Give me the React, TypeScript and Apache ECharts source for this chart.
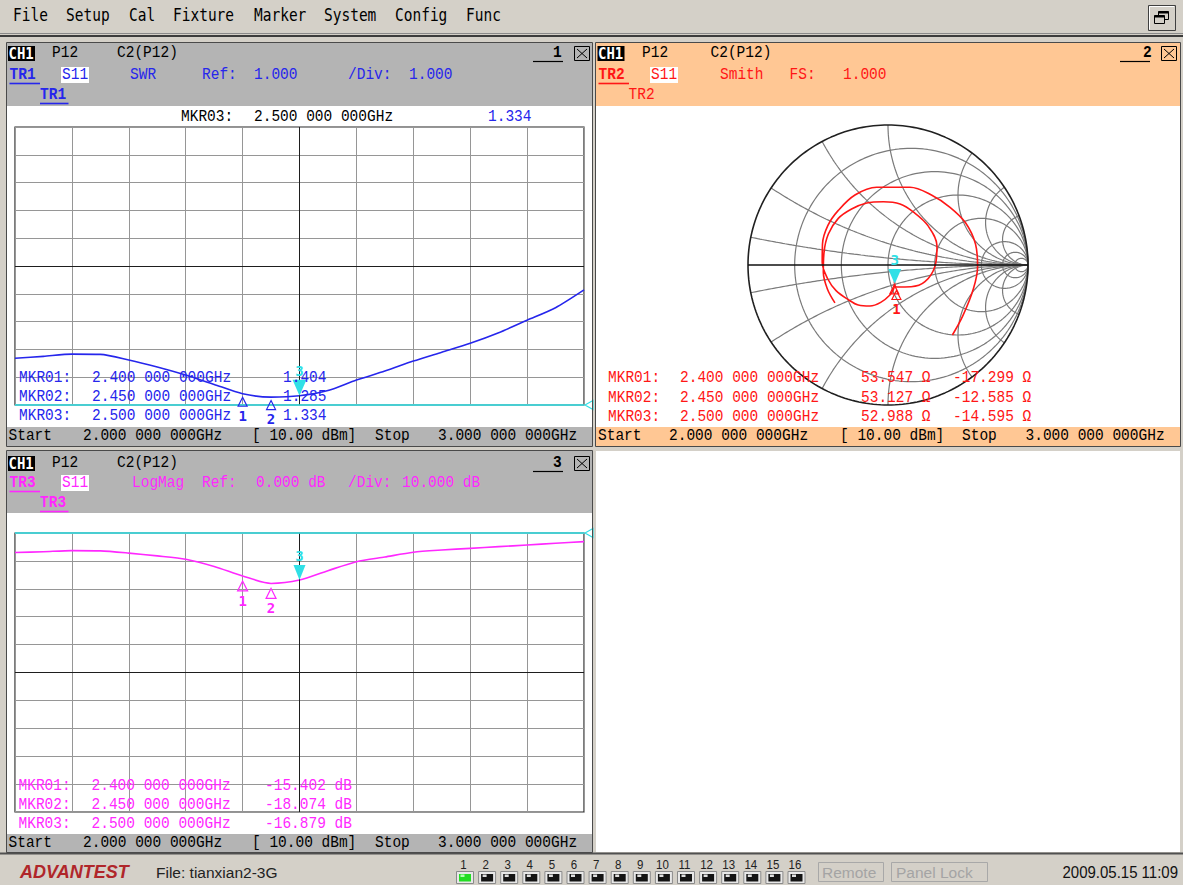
import React, { useEffect, useRef } from "react";
import * as echarts from "echarts";

// ---------------- data ----------------
const startGHz = 2.0;
const stopGHz = 3.0;
const powerLabel = "[ 10.00 dBm]";
const divisions = 10;

const freqGHz = [2.0, 2.05, 2.1, 2.15, 2.2, 2.25, 2.3, 2.35, 2.4, 2.45, 2.5, 2.55, 2.6, 2.65, 2.7, 2.75, 2.8, 2.85, 2.9, 2.95, 3.0];
const swrValues = [2.68, 2.75, 2.83, 2.82, 2.62, 2.37, 2.08, 1.74, 1.404, 1.285, 1.334, 1.52, 1.9, 2.22, 2.58, 2.9, 3.22, 3.6, 4.05, 4.5, 5.14];
const logMagDb = [-7.0, -6.7, -6.3, -6.4, -7.2, -8.2, -9.4, -12.0, -15.402, -18.074, -16.879, -13.5, -10.3, -8.6, -6.9, -6.1, -5.5, -4.9, -4.3, -3.7, -3.1];

const smithFreqGHz = [2.0, 2.025, 2.05, 2.075, 2.1, 2.125, 2.15, 2.175, 2.2, 2.225, 2.25, 2.275, 2.3, 2.325, 2.35, 2.375, 2.4, 2.45, 2.5, 2.525, 2.55, 2.575, 2.6, 2.625, 2.65, 2.675, 2.7, 2.725, 2.75, 2.775, 2.8, 2.825, 2.85, 2.875, 2.8875, 2.9, 2.9125, 2.925, 2.9375, 2.95, 2.975, 3.0];
const smithGammaRe = [-0.379, -0.433, -0.462, -0.457, -0.426, -0.355, -0.26, -0.152, -0.033, 0.086, 0.185, 0.285, 0.35, 0.335, 0.264, 0.165, 0.06, 0.045, 0.048, 0.038, 0.014, -0.052, -0.129, -0.212, -0.283, -0.371, -0.43, -0.47, -0.468, -0.43, -0.355, -0.236, -0.081, 0.157, 0.31, 0.443, 0.555, 0.625, 0.64, 0.61, 0.535, 0.46];
const smithGammaIm = [-0.271, -0.171, -0.052, 0.09, 0.221, 0.333, 0.4, 0.443, 0.452, 0.436, 0.376, 0.281, 0.135, -0.01, -0.119, -0.155, -0.157, -0.117, -0.135, -0.176, -0.214, -0.267, -0.293, -0.286, -0.248, -0.183, -0.1, 0.019, 0.15, 0.281, 0.39, 0.5, 0.555, 0.555, 0.5, 0.412, 0.3, 0.15, -0.01, -0.17, -0.362, -0.5];

const markerFreqGHz = [2.4, 2.45, 2.5];
const markerSwr = [1.404, 1.285, 1.334];
const markerLogMagDb = [-15.402, -18.074, -16.879];
const markerResOhm = [53.547, 53.127, 52.988];
const markerReactOhm = [-17.299, -12.585, -14.595];
const activeMarker = 2;

const swrRef = 1.0;
const swrDiv = 1.0;
const logRef = 0;
const logDiv = 10;
const smithFS = 1.0;

const menuItems = ["File", "Setup", "Cal", "Fixture", "Marker", "System", "Config", "Func"];
const channelCount = 16;
const resistanceCircles = [0.2, 0.5, 1, 2, 5, 10, 20];
const reactanceArcs = [0.1, 0.3, 0.6, 1, 2, 3.3, 5.5];

// ---------------- style ----------------
const BLUE = "#2626ec";
const RED = "#ff1616";
const MAG = "#ff28ff";
const CYAN = "#30e0e6";
const WIN = "#d4d0c8";
const HDR = "#b4b4b4";
const PEACH = "#ffc794";
const GRIDC = "#969696";
const MONO = "'Liberation Mono', 'DejaVu Sans Mono', monospace";
const SMONO = "'DejaVu Sans Mono', monospace";
const SANS = "'Liberation Sans', Arial, sans-serif";

type TOpt = { bold?: boolean; italic?: boolean; size?: number; family?: string; align?: string; sy?: number };
function T(x: number, y: number, text: string, fill: string, o: TOpt = {}) {
  const size = o.size ?? 14.5;
  return {
    type: "text",
    x,
    y,
    z: 100,
    silent: true,
    scaleY: o.sy ?? 1.15,
    style: {
      text,
      fill,
      font: `${o.italic ? "italic " : ""}${o.bold ? "bold " : ""}${size}px ${o.family ?? MONO}`,
      textAlign: o.align ?? "left",
      textVerticalAlign: "middle",
      align: o.align ?? "left",
      verticalAlign: "middle",
    },
  };
}
function R(x: number, y: number, w: number, h: number, fill: string, stroke?: string, lw = 1, z = 0) {
  const style: any = { fill };
  if (stroke) {
    style.stroke = stroke;
    style.lineWidth = lw;
  }
  return { type: "rect", z, silent: true, shape: { x, y, width: w, height: h }, style };
}
function L(x1: number, y1: number, x2: number, y2: number, stroke: string, lw = 1, z = 50) {
  return { type: "line", z, silent: true, shape: { x1, y1, x2, y2 }, style: { stroke, lineWidth: lw } };
}

function fmtGHz(f: number) {
  const s = f.toFixed(9);
  return `${s.slice(0, 5)} ${s.slice(5, 8)} ${s.slice(8)}GHz`;
}

function panelHeader(
  g: any[],
  p: {
    y1: number; y2: number; y3: number; chX: number; p12X: number; c2X: number; numX: number; ulX: number;
    boxX: number; trX: number; s11X: number; idx: string; tr: string; color: string;
    items: [number, string][]; tr3X: number; tr3Bold: boolean; tr3Under: boolean;
  }
) {
  g.push(R(p.chX, p.y1 - 7, 27, 15, "#000", undefined, 1, 90));
  g.push(T(p.chX + 0.5, p.y1 + 0.5, "CH1", "#fff", { bold: true, size: 14, family: SMONO, sy: 1.1 }));
  g.push(T(p.p12X, p.y1, "P12", "#000"));
  g.push(T(p.c2X, p.y1, "C2(P12)", "#000"));
  g.push(L(p.ulX, p.y1 + 8.5, p.ulX + 30, p.y1 + 8.5, "#000", 1.2, 90));
  g.push(T(p.numX, p.y1, p.idx, "#000", { bold: true }));
  g.push(R(p.boxX + 0.5, p.y1 - 6.5, 15, 14, "none", "#000", 1, 90));
  g.push(L(p.boxX + 3, p.y1 - 4, p.boxX + 13, p.y1 + 5, "#000", 1, 90));
  g.push(L(p.boxX + 13, p.y1 - 4, p.boxX + 3, p.y1 + 5, "#000", 1, 90));
  // line 2
  g.push(T(p.trX, p.y2, p.tr, p.color, { bold: true }));
  g.push(L(p.trX, p.y2 + 8.5, p.trX + 30.5, p.y2 + 8.5, p.color, 1.6, 90));
  g.push(R(p.s11X, p.y2 - 8, 28, 16, "#fff", undefined, 1, 90));
  g.push(T(p.s11X + 1, p.y2, "S11", p.color));
  for (const [x, s] of p.items) g.push(T(x, p.y2, s, p.color));
  // line 3
  g.push(T(p.tr3X, p.y3, p.tr, p.color, { bold: p.tr3Bold }));
  if (p.tr3Under) g.push(L(p.tr3X, p.y3 + 8.5, p.tr3X + 28.5, p.y3 + 8.5, p.color, 1.6, 90));
}

function statusBar(g: any[], y: number, xs: number[]) {
  g.push(T(xs[0], y, "Start", "#000"));
  g.push(T(xs[1], y, fmtGHz(startGHz), "#000"));
  g.push(T(xs[2], y, powerLabel, "#000"));
  g.push(T(xs[3], y, "Stop", "#000"));
  g.push(T(xs[4], y, fmtGHz(stopGHz), "#000"));
}

function buildGraphics() {
  const g: any[] = [];
  // window chrome
  g.push(R(0, 0, 1183, 42, WIN));
  g.push(L(0, 33.5, 1183, 33.5, "#8a8a8a", 1, 1));
  g.push(L(0, 36, 1183, 36, "#3c3c3c", 2, 1));
  g.push(R(0, 42, 7, 812, WIN));
  g.push(R(592, 42, 4, 812, WIN));
  g.push(R(1180, 42, 3, 812, WIN));
  g.push(R(0, 446, 1183, 5, WIN));
  g.push(R(0, 852, 1183, 33, WIN));
  g.push(L(0, 853.5, 1183, 853.5, "#505050", 2, 1));

  menuItems.forEach((m, i) => {
    const xs = [13, 66, 129, 173, 254, 324, 395, 466];
    g.push(T(xs[i], 15, m, "#000", { family: SMONO, size: 14.5, sy: 1.2 }));
  });
  // restore button
  g.push(R(1148.5, 5.5, 27, 25, WIN, "#404040", 1, 5));
  g.push(L(1149.5, 6.5, 1174, 6.5, "#fff", 1, 6));
  g.push(L(1149.5, 6.5, 1149.5, 29.5, "#fff", 1, 6));
  g.push(R(1158.5, 11.5, 10, 8, "none", "#000", 1, 7));
  g.push(L(1158.5, 12.5, 1168.5, 12.5, "#000", 2, 7));
  g.push(R(1154.5, 15.5, 10, 8, WIN, "#000", 1, 8));
  g.push(L(1154.5, 16.5, 1164.5, 16.5, "#000", 2, 8));

  // panel backgrounds
  g.push(R(7, 43, 585, 63, HDR));
  g.push(R(7, 427, 585, 19, HDR));
  g.push(R(596, 43, 584, 63, PEACH));
  g.push(R(596, 427, 584, 19, PEACH));
  g.push(R(7, 451, 585, 62, HDR));
  g.push(R(7, 834, 585, 18, HDR));
  g.push(R(6.5, 42.5, 586, 404, "none", "#4a4a4a", 1, 60));
  g.push(R(595.5, 42.5, 585, 404, "none", "#4a4a4a", 1, 60));
  g.push(R(6.5, 450.5, 586, 402, "none", "#4a4a4a", 1, 60));

  // panel 1 (SWR)
  panelHeader(g, {
    y1: 53, y2: 75, y3: 95, chX: 8, p12X: 52, c2X: 117, numX: 553, ulX: 533, boxX: 574,
    trX: 9.5, s11X: 61, idx: "1", tr: "TR1", color: BLUE,
    items: [[130, "SWR"], [202, "Ref:"], [254, swrRef.toFixed(3)], [348, "/Div:"], [409, swrDiv.toFixed(3)]],
    tr3X: 40, tr3Bold: true, tr3Under: true,
  });
  g.push(T(181, 117, `MKR0${activeMarker + 1}:`, "#000"));
  g.push(T(254, 117, fmtGHz(markerFreqGHz[activeMarker]), "#000"));
  g.push(T(488, 117, markerSwr[activeMarker].toFixed(3), BLUE));
  markerFreqGHz.forEach((f, i) => {
    const y = 378 + i * 19;
    g.push(T(19, y, `MKR0${i + 1}:`, BLUE));
    g.push(T(92, y, fmtGHz(f), BLUE));
    g.push(T(283, y, markerSwr[i].toFixed(3), BLUE));
  });
  statusBar(g, 436, [8.5, 83, 252, 375, 438]);

  // panel 2 (Smith)
  panelHeader(g, {
    y1: 53, y2: 75, y3: 95, chX: 597.5, p12X: 642, c2X: 710.5, numX: 1143, ulX: 1120, boxX: 1161,
    trX: 598.5, s11X: 650, idx: "2", tr: "TR2", color: RED,
    items: [[720, "Smith"], [789.5, "FS:"], [843, smithFS.toFixed(3)]],
    tr3X: 628.5, tr3Bold: false, tr3Under: false,
  });
  markerFreqGHz.forEach((f, i) => {
    const y = 378 + i * 19.5;
    g.push(T(608, y, `MKR0${i + 1}:`, RED));
    g.push(T(680, y, fmtGHz(f), RED));
    g.push(T(861, y, `${markerResOhm[i].toFixed(3)} Ω`, RED));
    g.push(T(953, y, `${markerReactOhm[i].toFixed(3)} Ω`, RED));
  });
  statusBar(g, 435.5, [598, 669, 840, 962, 1025.5]);

  // panel 3 (LogMag)
  panelHeader(g, {
    y1: 463, y2: 483, y3: 503, chX: 8, p12X: 52, c2X: 117, numX: 553, ulX: 533, boxX: 574,
    trX: 9.5, s11X: 61, idx: "3", tr: "TR3", color: MAG,
    items: [[132, "LogMag"], [202, "Ref:"], [256, `${logRef.toFixed(3)} dB`], [348, "/Div:"], [402, `${logDiv.toFixed(3)} dB`]],
    tr3X: 40, tr3Bold: true, tr3Under: true,
  });
  markerFreqGHz.forEach((f, i) => {
    const y = 785.5 + i * 19;
    g.push(T(18.5, y, `MKR0${i + 1}:`, MAG));
    g.push(T(91.5, y, fmtGHz(f), MAG));
    g.push(T(265, y, `${markerLogMagDb[i].toFixed(3)} dB`, MAG));
  });
  statusBar(g, 843, [8.5, 83, 252, 375, 438]);

  // bottom status strip
  g.push(T(20, 872, "ADVANTEST", "#b0262a", { family: SANS, bold: true, italic: true, size: 18, sy: 1 }));
  g.push(T(156, 872, "File: tianxian2-3G", "#222", { family: SANS, size: 15.5, sy: 1 }));
  for (let i = 0; i < channelCount; i++) {
    const cx = 465 + i * 22.1;
    g.push(T(cx - 1.5, 864.5, String(i + 1), "#222", { family: SANS, size: 11.5, align: "center", sy: 1.1 }));
    g.push(R(cx - 8.5, 871.5, 17, 12, "#e8e8e8", "#8a8a8a", 1, 5));
    g.push(R(cx - 6, 874, 12, 7.5, i === 0 ? "#22dd22" : "#141414", undefined, 1, 6));
    g.push(R(cx - 4.5, 874.5, 4, 2.5, i === 0 ? "#b0ffb0" : "#e0e0e0", undefined, 1, 7));
  }
  g.push(R(818.5, 862.5, 65, 19, "none", "#a8a8a8", 1, 5));
  g.push(T(822, 872, "Remote", "#a4a4a4", { family: SANS, size: 15.5, sy: 1 }));
  g.push(R(891.5, 862.5, 96, 19, "none", "#a8a8a8", 1, 5));
  g.push(T(896, 872, "Panel Lock", "#a4a4a4", { family: SANS, size: 15.5, sy: 1 }));
  g.push(T(1178, 872, "2009.05.15 11:09", "#111", { family: SANS, size: 15, align: "right", sy: 1.05 }));
  return g;
}

function smithGridLines() {
  const lines: number[][][] = [];
  for (const r of resistanceCircles) {
    const c = r / (1 + r);
    const rad = 1 / (1 + r);
    const pts: number[][] = [];
    for (let k = 0; k <= 180; k++) {
      const a = (k / 180) * 2 * Math.PI;
      pts.push([c + rad * Math.cos(a), rad * Math.sin(a)]);
    }
    lines.push(pts);
  }
  for (const x of reactanceArcs) {
    for (const s of [1, -1]) {
      let t0 = Math.atan2((x * x - 1) / x, -2);
      if (t0 < 0) t0 += 2 * Math.PI;
      const t1 = 1.5 * Math.PI;
      const pts: number[][] = [];
      for (let k = 0; k <= 120; k++) {
        const t = t0 + ((t1 - t0) * k) / 120;
        pts.push([1 + Math.cos(t) / x, s * (1 / x + Math.sin(t) / x)]);
      }
      lines.push(pts);
    }
  }
  return lines;
}

function unitCircle() {
  const pts: number[][] = [];
  for (let k = 0; k <= 240; k++) {
    const a = (k / 240) * 2 * Math.PI;
    pts.push([Math.cos(a), Math.sin(a)]);
  }
  return pts;
}

function hollowMarker(coord: number[], color: string, label: string, size: number, off: number, showLabel = true) {
  return {
    coord,
    symbol: "triangle",
    symbolSize: [size, size],
    symbolOffset: [0, off],
    itemStyle: { color: "rgba(0,0,0,0)", borderColor: color, borderWidth: 1.2 },
    label: { show: showLabel, formatter: label, position: "bottom", distance: 2, color, fontWeight: "bold", fontSize: 14, fontFamily: SMONO },
  };
}
function activeMark(coord: number[], w: number, h: number) {
  return {
    coord,
    symbol: "triangle",
    symbolRotate: 180,
    symbolSize: [w, h],
    symbolOffset: [0, -h / 2],
    itemStyle: { color: CYAN, borderWidth: 0 },
    label: { show: true, formatter: String(activeMarker + 1), position: "top", distance: 2, color: CYAN, fontWeight: "bold", fontSize: 14, fontFamily: SMONO },
  };
}
function refMark(coord: number[]) {
  return {
    coord,
    symbol: "triangle",
    symbolRotate: 90,
    symbolSize: [9, 8],
    symbolOffset: [5, 0],
    itemStyle: { color: "rgba(0,0,0,0)", borderColor: CYAN, borderWidth: 1.2 },
    label: { show: false },
  };
}

function buildOption() {
  const swrMax = swrRef + divisions * swrDiv;
  const logMin = logRef - divisions * logDiv;
  const midF = (startGHz + stopGHz) / 2;
  const fInt = (stopGHz - startGHz) / divisions;

  const plotX = (gridIndex: number) => ({
    gridIndex,
    type: "value",
    min: startGHz,
    max: stopGHz,
    interval: fInt,
    axisLine: { show: false },
    axisTick: { show: false },
    axisLabel: { show: false },
    splitLine: { show: true, lineStyle: { color: GRIDC, width: 1 } },
  });
  const hidden = (gridIndex: number) => ({
    gridIndex,
    type: "value",
    min: -smithFS,
    max: smithFS,
    axisLine: { show: false },
    axisTick: { show: false },
    axisLabel: { show: false },
    splitLine: { show: false },
  });

  const darkLine = { color: "#1e1e1e", width: 1, type: "solid" };
  const series: any[] = [];

  // SWR
  series.push({
    type: "line",
    xAxisIndex: 0,
    yAxisIndex: 0,
    data: freqGHz.map((f, i) => [f, swrValues[i]]),
    showSymbol: false,
    symbol: "none",
    smooth: 0.25,
    lineStyle: { color: BLUE, width: 1.6 },
    z: 3,
    silent: true,
    emphasis: { disabled: true },
    markLine: {
      silent: true,
      symbol: ["none", "none"],
      label: { show: false },
      animation: false,
      data: [
        { xAxis: midF, lineStyle: darkLine },
        { yAxis: (swrRef + swrMax) / 2, lineStyle: darkLine },
        { yAxis: swrRef, lineStyle: { color: CYAN, width: 1.5, type: "solid" } },
      ],
    },
    markPoint: {
      silent: true,
      animation: false,
      data: [
        hollowMarker([markerFreqGHz[0], markerSwr[0]], BLUE, "1", 9, 8),
        hollowMarker([markerFreqGHz[1], markerSwr[1]], BLUE, "2", 9, 8),
        activeMark([markerFreqGHz[2], markerSwr[2]], 14, 16),
        refMark([stopGHz, swrRef]),
      ],
    },
  });

  // LogMag
  series.push({
    type: "line",
    xAxisIndex: 2,
    yAxisIndex: 2,
    data: freqGHz.map((f, i) => [f, logMagDb[i]]),
    showSymbol: false,
    symbol: "none",
    smooth: 0.25,
    lineStyle: { color: MAG, width: 1.6 },
    z: 3,
    silent: true,
    emphasis: { disabled: true },
    markLine: {
      silent: true,
      symbol: ["none", "none"],
      label: { show: false },
      animation: false,
      data: [
        { xAxis: midF, lineStyle: darkLine },
        { yAxis: (logRef + logMin) / 2, lineStyle: darkLine },
        { yAxis: logRef, lineStyle: { color: CYAN, width: 1.5, type: "solid" } },
      ],
    },
    markPoint: {
      silent: true,
      animation: false,
      data: [
        hollowMarker([markerFreqGHz[0], markerLogMagDb[0]], MAG, "1", 10, 10),
        hollowMarker([markerFreqGHz[1], markerLogMagDb[1]], MAG, "2", 10, 10),
        activeMark([markerFreqGHz[2], markerLogMagDb[2]], 12, 15),
        refMark([stopGHz, logRef]),
      ],
    },
  });

  // Smith grid
  for (const pts of smithGridLines()) {
    series.push({
      type: "line",
      xAxisIndex: 1,
      yAxisIndex: 1,
      data: pts,
      showSymbol: false,
      symbol: "none",
      lineStyle: { color: "#7a7a7a", width: 1.2 },
      z: 1,
      silent: true,
      emphasis: { disabled: true },
      clip: false,
    });
  }
  series.push({
    type: "line",
    xAxisIndex: 1,
    yAxisIndex: 1,
    data: unitCircle(),
    showSymbol: false,
    symbol: "none",
    lineStyle: { color: "#202020", width: 1.6 },
    z: 2,
    silent: true,
    emphasis: { disabled: true },
    clip: false,
    markLine: {
      silent: true,
      symbol: ["none", "none"],
      label: { show: false },
      animation: false,
      data: [{ yAxis: 0, lineStyle: { color: "#111", width: 1.6, type: "solid" } }],
    },
  });

  const smithIdx = markerFreqGHz.map((f) => smithFreqGHz.findIndex((s) => Math.abs(s - f) < 1e-6));
  const smithPt = (k: number) => [smithGammaRe[smithIdx[k]], smithGammaIm[smithIdx[k]]];
  series.push({
    type: "line",
    xAxisIndex: 1,
    yAxisIndex: 1,
    data: smithFreqGHz.map((f, i) => [smithGammaRe[i], smithGammaIm[i]]),
    showSymbol: false,
    symbol: "none",
    smooth: 0.35,
    lineStyle: { color: RED, width: 1.6 },
    z: 4,
    silent: true,
    emphasis: { disabled: true },
    clip: false,
    markPoint: {
      silent: true,
      animation: false,
      data: [
        hollowMarker(smithPt(1), RED, "2", 9, 8, false),
        hollowMarker(smithPt(0), RED, "1", 9, 8),
        activeMark(smithPt(2), 13, 15),
      ],
    },
  });

  return {
    animation: false,
    backgroundColor: "#ffffff",
    grid: [
      { left: 15, top: 127, width: 569, height: 278, show: true, borderColor: "#262626", borderWidth: 1.2, backgroundColor: "transparent", containLabel: false, outerBoundsMode: "none" },
      { left: 748, top: 125, width: 280, height: 280, show: false, containLabel: false, outerBoundsMode: "none" },
      { left: 15, top: 533, width: 569, height: 279, show: true, borderColor: "#262626", borderWidth: 1.2, backgroundColor: "transparent", containLabel: false, outerBoundsMode: "none" },
    ],
    xAxis: [plotX(0), hidden(1), plotX(2)],
    yAxis: [
      { ...plotX(0), min: swrRef, max: swrMax, interval: swrDiv },
      hidden(1),
      { ...plotX(2), min: logMin, max: logRef, interval: logDiv },
    ],
    series,
    graphic: { elements: buildGraphics() },
  };
}

export default function App() {
  const ref = useRef<HTMLDivElement>(null);
  useEffect(() => {
    document.body.style.margin = "0";
    const chart = echarts.init(ref.current as HTMLDivElement, undefined, { renderer: "svg", width: 1183, height: 885 });
    chart.setOption(buildOption() as any);
    return () => chart.dispose();
  }, []);
  return <div ref={ref} style={{ position: "fixed", left: 0, top: 0, width: 1183, height: 885 }} />;
}
